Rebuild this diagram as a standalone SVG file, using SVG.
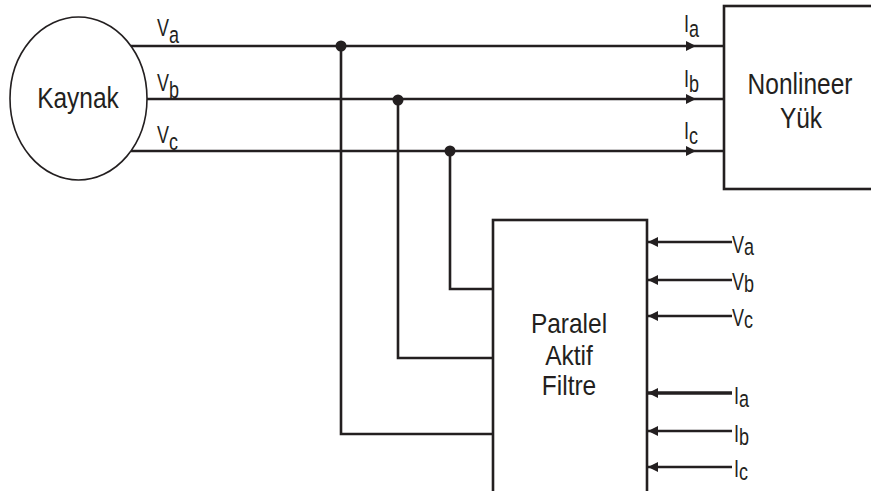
<svg xmlns="http://www.w3.org/2000/svg" width="871" height="491" viewBox="0 0 871 491">
<style>
.ln{fill:none;stroke:#231f20;stroke-width:2.6}
.box{fill:#fff;stroke:#231f20;stroke-width:2.6}
.txt{font-family:"Liberation Sans",Arial,sans-serif;fill:#231f20}
.big{font-size:24.5px;text-anchor:middle}
.lbl{font-size:18px}
.dot{fill:#231f20}
</style>
<defs>
<marker id="ah" viewBox="0 0 10 10" refX="10" refY="5" markerUnits="userSpaceOnUse" markerWidth="10" markerHeight="11" orient="auto">
<path d="M0,0 L10,5 L0,10 z" fill="#231f20"/>
</marker>
</defs>
<rect width="871" height="491" fill="#fff"/>
<g id="connectors">
<path class="ln" d="M131,46 L696,46 L724,46" marker-mid="url(#ah)"/>
<path class="ln" d="M147,99 L696,99 L724,99" marker-mid="url(#ah)"/>
<path class="ln" d="M131,151 L696,151 L724,151" marker-mid="url(#ah)"/>
<path class="ln" d="M341,46 V434 H493"/>
<path class="ln" d="M398,100 V358 H493"/>
<path class="ln" d="M450,151 V289 H493"/>
<circle class="dot" cx="341" cy="46" r="5.5"/>
<circle class="dot" cx="398" cy="100" r="5.5"/>
<circle class="dot" cx="450" cy="151" r="5.5"/>
<path class="ln" d="M732,242 H648" marker-end="url(#ah)"/>
<path class="ln" d="M732,280 H648" marker-end="url(#ah)"/>
<path class="ln" d="M732,316 H648" marker-end="url(#ah)"/>
<path class="ln" d="M732,393 H648" style="stroke-width:3.4" marker-end="url(#ah)"/>
<path class="ln" d="M732,431 H648" marker-end="url(#ah)"/>
<path class="ln" d="M732,467 H648" marker-end="url(#ah)"/>
<text class="txt lbl" transform="translate(157,36) scale(1,1.35)">V<tspan dy="5">a</tspan></text>
<text class="txt lbl" transform="translate(157,91) scale(1,1.35)">V<tspan dy="5">b</tspan></text>
<text class="txt lbl" transform="translate(157,143) scale(1,1.35)">V<tspan dy="5">c</tspan></text>
<text class="txt lbl" transform="translate(684,32) scale(1,1.35)">I<tspan dy="4">a</tspan></text>
<text class="txt lbl" transform="translate(684,87) scale(1,1.35)">I<tspan dy="4">b</tspan></text>
<text class="txt lbl" transform="translate(684,139) scale(1,1.35)">I<tspan dy="4">c</tspan></text>
<text class="txt lbl" transform="translate(732,253) scale(1,1.35)">V<tspan dy="1.5">a</tspan></text>
<text class="txt lbl" transform="translate(732,290) scale(1,1.35)">V<tspan dy="1.5">b</tspan></text>
<text class="txt lbl" transform="translate(732,326) scale(1,1.35)">V<tspan dy="1.5">c</tspan></text>
<text class="txt lbl" transform="translate(734,404) scale(1,1.35)">I<tspan dy="2">a</tspan></text>
<text class="txt lbl" transform="translate(734,442) scale(1,1.35)">I<tspan dy="2">b</tspan></text>
<text class="txt lbl" transform="translate(734,477) scale(1,1.35)">I<tspan dy="2">c</tspan></text>
</g>
<g id="kaynak">
<ellipse cx="78.5" cy="98.5" rx="68.5" ry="81.5" fill="#fff" stroke="#231f20" stroke-width="1.6"/>
<text class="txt big" transform="translate(78,108) scale(1,1.19)">Kaynak</text>
</g>
<g id="yuk">
<rect class="box" x="724" y="6" width="150" height="183"/>
<text class="txt big" transform="translate(800,94) scale(1,1.17)">Nonlineer</text>
<text class="txt big" transform="translate(801,128) scale(1,1.17)">Yük</text>
</g>
<g id="filtre">
<rect class="box" x="493" y="220" width="154" height="275"/>
<text class="txt big" transform="translate(569,333) scale(1,1.15)">Paralel</text>
<text class="txt big" transform="translate(569,365) scale(1,1.15)">Aktif</text>
<text class="txt big" transform="translate(569,395) scale(1,1.15)">Filtre</text>
</g>
</svg>
